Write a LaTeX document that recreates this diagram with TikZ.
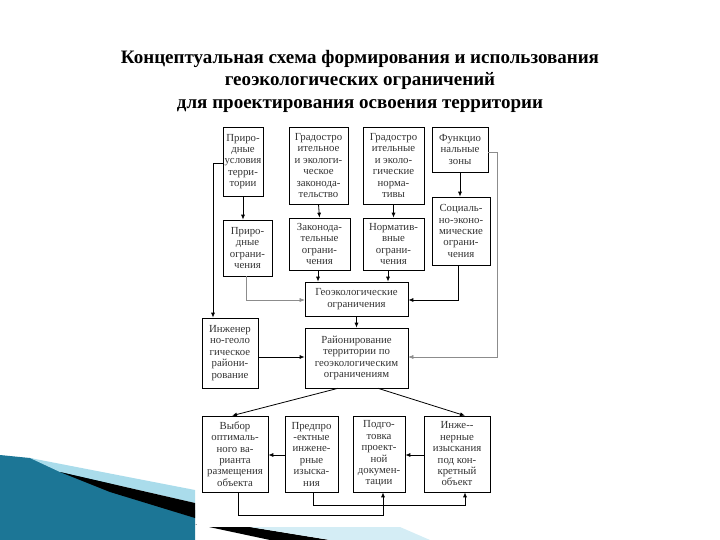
\documentclass[tikz,border=0pt]{standalone}
\usepackage{fontspec}
\setmainfont{Liberation Serif}
\usetikzlibrary{arrows.meta}
\definecolor{teal1}{RGB}{28,118,150}
\definecolor{lblue}{RGB}{170,220,235}
\begin{document}
\begin{tikzpicture}[x=1pt,y=-1pt,
  bx/.style={draw,line width=0.6pt,align=center,inner sep=0.5pt,font=\fontsize{10.8}{11.4}\selectfont,text=black!80},
  ar/.style={-{Latex[length=5pt,width=4pt]},line width=0.8pt},
  gar/.style={-{Latex[length=5pt,width=4pt]},line width=0.5pt,draw=black!45}]
\useasboundingbox (0,0) rectangle (720,540);
% decoration
\fill[teal1] (0,455) -- (30,458) -- (195,510) -- (195,540) -- (0,540) -- cycle;
\fill[lblue] (30,458) -- (195,490) -- (195,503) -- (60,472) -- cycle;
\fill[black] (60,472) -- (195,503) -- (195,518) -- (110,492) -- cycle;
\fill[black] (195,524) -- (250,527) -- (330,540) -- (270,540) -- cycle;
\fill[lblue!50] (250,527) -- (400,527) -- (430,540) -- (330,540) -- cycle;
\fill[white] (197,400) rectangle (500,527);
\node[font=\bfseries\fontsize{19}{22.5}\selectfont,align=center] (t) at (360,81)
 {Концептуальная схема формирования и использования\\геоэкологических ограничений\\для проектирования освоения территории};
\newcommand\bxat[5]{\node[bx,minimum width=#3-#1,minimum height=#4-#2] (#5) at ({(#1+#3)/2},{(#2+#4)/2})}
\bxat{223}{127}{263}{196}{a1} {Приро-\\дные\\условия\\терри-\\тории};
\bxat{289}{127}{348}{204}{a2} {Градостро\\ительное\\и экологи-\\ческое\\законода-\\тельство};
\bxat{363}{127}{424}{204}{a3} {Градостро\\ительные\\и эколо-\\гические\\норма-\\тивы};
\bxat{432}{127}{488}{172}{a4} {Функцио\\нальные\\зоны};
\bxat{223}{220}{272}{276}{b1} {Приро-\\дные\\ограни-\\чения};
\bxat{289}{218}{350}{270}{b2} {Законода-\\тельные\\ограни-\\чения};
\bxat{363}{218}{424}{270}{b3} {Норматив-\\вные\\ограни-\\чения};
\bxat{432}{197}{490}{265}{b4} {Социаль-\\но-эконо-\\мические\\ограни-\\чения};
\bxat{305}{282}{408}{316}{geo} {Геоэкологические\\ограничения};
\bxat{202}{318}{258}{388}{eng} {Инженер\\но-геоло\\гическое\\райони-\\рование};
\bxat{305}{328}{408}{388}{rai} {Районирование\\территории по\\геоэкологическим\\ограничениям};
\bxat{202}{416}{268}{492}{c1} {Выбор\\оптималь-\\ного ва-\\рианта\\размещения\\объекта};
\bxat{285}{416}{338}{492}{c2} {Предпро\\-ектные\\инжене-\\рные\\изыска-\\ния};
\bxat{353}{416}{405}{492}{c3} {Подго-\\товка\\проект-\\ной\\докумен-\\тации};
\bxat{424}{416}{490}{492}{c4} {Инже-{}-\\нерные\\изыскания\\под кон-\\кретный\\объект};
% arrows
\draw[ar] (a1.south) -- (b1.north -| a1.south);
\draw[ar] (a2.south) -- (b2.north);
\draw[ar] (a3.south) -- (b3.north);
\draw[ar] (a4.south) -- (a4.south |- b4.north);
\draw[ar] (a1.west |- 0,163) -- (213,163) -- (eng.north -| 213,0);
\draw[gar] (b1.south -| 246,0) -- (246,300) -- (geo.west |- 0,300);
\draw[ar] (b2.south -| 318,0) -- (geo.north -| 318,0);
\draw[ar] (b3.south -| 388,0) -- (geo.north -| 388,0);
\draw[ar] (b4.south -| 458,0) -- (458,300) -- (geo.east |- 0,300);
\draw[gar] (a4.east |- 0,152) -- (497,152) -- (497,357) -- (rai.east |- 0,357);
\draw[ar] (eng.east |- 0,357) -- (rai.west |- 0,357);
\draw[ar] (geo.south) -- (rai.north);
\draw[ar] (rai.south -| 338,0) -- (c1.north -| 232,0);
\draw[ar] (rai.south -| 378,0) -- (c4.north -| 465,0);
\draw[ar] (c2.west |- 0,455) -- (c1.east |- 0,455);
\draw[ar] (c4.west |- 0,455) -- (c3.east |- 0,455);
\draw[ar] (c1.south -| 238,0) -- (238,515) -- (383,515) -- (c3.south -| 383,0);
\draw[ar] (c2.south -| 313,0) -- (313,505) -- (465,505) -- (c4.south -| 465,0);
\end{tikzpicture}
\end{document}
